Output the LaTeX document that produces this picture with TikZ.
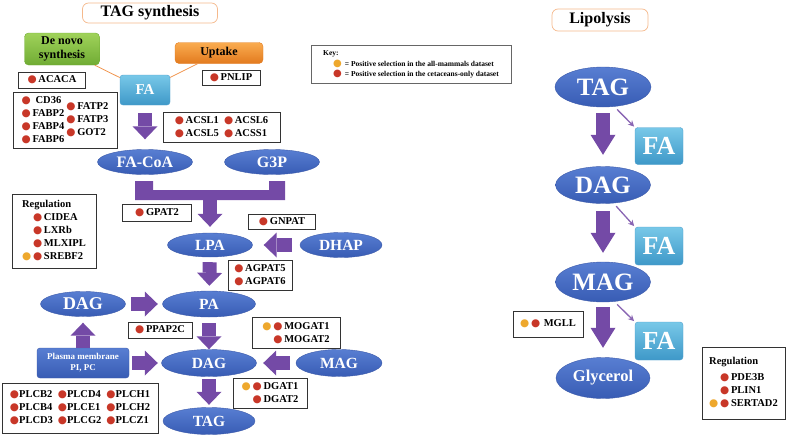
\documentclass[tikz,border=0pt]{standalone}
\usepackage{fontspec}
\setmainfont{Liberation Serif}
\newfontfamily\dotfont{DejaVu Sans}
\usetikzlibrary{shapes.geometric,arrows.meta}

\definecolor{dotred}{RGB}{200,55,40}
\definecolor{dotorange}{RGB}{238,168,45}
\definecolor{fatpurple}{RGB}{116,74,166}
\definecolor{elltop}{RGB}{88,126,210}
\definecolor{ellbot}{RGB}{56,92,180}
\definecolor{ellline}{RGB}{60,90,170}
\definecolor{fatop}{RGB}{120,200,232}
\definecolor{fabot}{RGB}{62,152,200}
\definecolor{faline}{RGB}{80,160,205}
\definecolor{greentop}{RGB}{160,210,90}
\definecolor{greenbot}{RGB}{112,172,52}
\definecolor{orangetop}{RGB}{250,172,80}
\definecolor{orangebot}{RGB}{226,122,30}
\definecolor{titleorange}{RGB}{245,185,140}
\definecolor{linkorange}{RGB}{240,150,80}

\newcommand{\rd}{\textcolor{dotred}{\dotfont ●}}
\newcommand{\od}{\textcolor{dotorange}{\dotfont ●}}

\begin{document}
\begin{tikzpicture}[x=1pt,y=-1pt,
    oval/.style={ellipse, inner sep=0pt, draw=ellline, top color=elltop, bottom color=ellbot, text=white, font=\bfseries\fontsize{15.5}{16}\selectfont},
    bigoval/.style={oval, font=\bfseries\fontsize{25}{25}\selectfont},
    fabox/.style={rectangle, rounded corners=3pt, inner sep=0pt, draw=faline, top color=fatop, bottom color=fabot, text=white, font=\bfseries\fontsize{15}{15}\selectfont},
    genes/.style={draw=black!80, line width=0.8pt, fill=white, inner sep=2pt, font=\bfseries\fontsize{10.5}{13}\selectfont},
    titlebox/.style={draw=titleorange, line width=0.7pt, rounded corners=6pt, fill=white, inner sep=0pt, font=\bfseries\fontsize{16}{16}\selectfont},
    fat/.style={line width=14pt, draw=fatpurple, -{Triangle[length=13pt,width=25pt,line width=0pt]}},
    longfat/.style={fat, -{Triangle[length=20pt,width=25pt,line width=0pt]}},
    thinarr/.style={line width=1.3pt, draw=fatpurple!85, -{Stealth[length=6pt,width=6pt]}},
    link/.style={draw=linkorange, line width=0.8pt}]
  \useasboundingbox (0,0) rectangle (787,439);

  \node[titlebox, minimum width=135, minimum height=20] (title1) at (150,13) {TAG synthesis};
  \node[titlebox, minimum width=96, minimum height=22] (title2) at (600,20) {Lipolysis};

  \node[rectangle, rounded corners=4pt, draw=greenbot, top color=greentop, bottom color=greenbot, minimum width=75, minimum height=32, inner sep=0pt, align=center, font=\bfseries\fontsize{12}{14}\selectfont] (denovo) at (62,49) {De novo\\synthesis};
  \node[rectangle, rounded corners=4pt, draw=orangebot, top color=orangetop, bottom color=orangebot, minimum width=88, minimum height=21, inner sep=0pt, font=\bfseries\fontsize{12}{14}\selectfont] (uptake) at (219,53) {Uptake};
  \node[fabox, minimum width=50, minimum height=30] (fa) at (145,90) {FA};
  \draw[link] (denovo) -- (fa);
  \draw[link] (uptake) -- (fa);

  \node[genes, minimum width=67, minimum height=16] (acaca) at (52,80) {\rd\,ACACA};
  \node[genes, minimum width=58, minimum height=15] (pnlip) at (231,78) {\rd\,PNLIP};

  \node[draw=black!60, line width=0.6pt, fill=white, minimum width=200, minimum height=38, inner sep=0pt, font=\bfseries\fontsize{7.5}{10.5}\selectfont] (key) at (411,64) {\begin{tabular}{@{\hspace{10pt}}c@{\hspace{3pt}}l@{}}
      \multicolumn{2}{@{}l}{Key:}\\
      {\fontsize{10}{10}\selectfont\od} & = Positive selection in the all-mammals dataset\\
      {\fontsize{10}{10}\selectfont\rd} & = Positive selection in the cetaceans-only dataset
    \end{tabular}};

  \node[genes, minimum width=104, minimum height=54] (transport) at (65,120) {\begin{tabular}{@{}c@{\,}c@{}}
      \rd & CD36\\ \rd & FABP2\\ \rd & FABP4\\ \rd & FABP6
    \end{tabular}\hspace{2pt}\begin{tabular}{@{}c@{\,}l@{}}
      \rd & FATP2\\ \rd & FATP3\\ \rd & GOT2
    \end{tabular}};

  \node[genes, minimum width=117, minimum height=30] (acsl) at (221.5,127) {\begin{tabular}{@{}c@{\,}l@{\hspace{5pt}}c@{\,}l@{}}
      \rd & ACSL1 & \rd & ACSL6\\ \rd & ACSL5 & \rd & ACSS1
    \end{tabular}};

  \node[oval, minimum width=95, minimum height=25, font=\bfseries\fontsize{16}{16}\selectfont] (facoa) at (145,162) {FA-CoA};
  \node[oval, minimum width=95, minimum height=25, font=\bfseries\fontsize{16}{16}\selectfont] (g3p) at (272,162) {G3P};
  \draw[fat, shorten <=8pt, shorten >=10pt] (fa) -- (facoa);

  \fill[fatpurple] (135,181) -- (153,181) -- (153,190) -- (269,190) -- (269,181)
    -- (285,181) -- (285,200) -- (135,200) -- cycle;
  \coordinate (barmid) at (210,200);

  \node[genes, minimum width=69, minimum height=17] (gpat2) at (157,213) {\rd\,GPAT2};
  \node[genes, minimum width=84, minimum height=74] (reg1) at (54,231) {\begin{tabular}{@{}r@{\,}l@{}}
      \multicolumn{2}{@{}l}{Regulation}\\
      \rd & CIDEA\\ \rd & LXRb\\ \rd & MLXIPL\\ \od\,\rd & SREBF2
    \end{tabular}};
  \node[genes, minimum width=67, minimum height=15] (gnpat) at (282,222) {\rd\,GNPAT};

  \node[oval, minimum width=85, minimum height=24] (lpa) at (210,245) {LPA};
  \node[oval, minimum width=82, minimum height=25] (dhap) at (341,245) {DHAP};
  \draw[fat, shorten >=6pt] (barmid) -- (lpa);
  \draw[fat, shorten <=8pt, shorten >=11pt] (dhap) -- (lpa);

  \node[genes, minimum width=64, minimum height=26] (agpat) at (260,275) {\begin{tabular}{@{}c@{\,}l@{}}
      \rd & AGPAT5\\ \rd & AGPAT6
    \end{tabular}};

  \node[oval, minimum width=93, minimum height=26] (pa) at (209,304) {PA};
  \node[oval, minimum width=85, minimum height=25, font=\bfseries\fontsize{18}{18}\selectfont] (dagL) at (83,304) {DAG};
  \draw[fat, shorten <=5pt, shorten >=5pt] (lpa) -- (pa);
  \draw[fat, shorten <=5.5pt, shorten >=4.5pt] (dagL) -- (pa);

  \node[rectangle, rounded corners=3pt, draw=ellline, top color=elltop, bottom color=ellbot, text=white, minimum width=92, minimum height=30, inner sep=0pt, align=center, font=\bfseries\fontsize{9}{11}\selectfont] (plasma) at (83,363) {Plasma membrane\\PI, PC};
  \node[genes, minimum width=64, minimum height=16] (ppap) at (160,330) {\rd\,PPAP2C};

  \node[oval, minimum width=95, minimum height=27] (dagC) at (209,363) {DAG};
  \node[oval, minimum width=86, minimum height=27] (mag) at (339,363) {MAG};
  \node[genes, minimum width=88, minimum height=31] (mogat) at (296,333) {\begin{tabular}{@{}r@{\,}l@{}}
      \od\,\rd & MOGAT1\\ \rd & MOGAT2
    \end{tabular}};
  \draw[fat, shorten >=6pt] (plasma) -- (dagL);
  \draw[fat, shorten <=3pt, shorten >=3.5pt] (plasma) -- (dagC);
  \draw[fat, shorten <=6pt] (pa) -- (dagC);
  \draw[fat, shorten <=6pt, shorten >=6.5pt] (mag) -- (dagC);

  \node[genes, minimum width=74, minimum height=27] (dgat) at (270,393) {\begin{tabular}{@{}r@{\,}l@{}}
      \od\,\rd & DGAT1\\ \rd & DGAT2
    \end{tabular}};
  \node[oval, minimum width=92, minimum height=27] (tagL) at (209,421) {TAG};
  \draw[fat, shorten <=2.5pt, shorten >=2.5pt] (dagC) -- (tagL);

  \node[genes, minimum width=156, minimum height=50] (plc) at (80,408) {\begin{tabular}{@{}c@{}l@{\hspace{5pt}}c@{}l@{\hspace{5pt}}c@{}l@{}}
      \rd & PLCB2 & \rd & PLCD4 & \rd & PLCH1\\
      \rd & PLCB4 & \rd & PLCE1 & \rd & PLCH2\\
      \rd & PLCD3 & \rd & PLCG2 & \rd & PLCZ1
    \end{tabular}};

  \node[bigoval, minimum width=96, minimum height=40] (tagR) at (603,87) {TAG};
  \node[bigoval, minimum width=95, minimum height=37] (dagR) at (603,185) {DAG};
  \node[bigoval, minimum width=95, minimum height=40] (magR) at (603,282) {MAG};
  \node[oval, minimum width=94, minimum height=41, font=\bfseries\fontsize{16.5}{17}\selectfont] (gly) at (603,378) {Glycerol};
  \node[fabox, minimum width=48, minimum height=37, font=\bfseries\fontsize{26}{26}\selectfont] (fa1) at (659,146) {FA};
  \node[fabox, minimum width=48, minimum height=38, font=\bfseries\fontsize{26}{26}\selectfont] (fa2) at (659,246) {FA};
  \node[fabox, minimum width=48, minimum height=38, font=\bfseries\fontsize{26}{26}\selectfont] (fa3) at (659,341) {FA};
  \draw[longfat, shorten <=6pt, shorten >=11.5pt] (tagR) -- (dagR);
  \draw[longfat, shorten <=7.5pt, shorten >=9pt] (dagR) -- (magR);
  \draw[longfat, shorten <=5pt, shorten >=9.5pt] (magR) -- (gly);
  \draw[thinarr, shorten <=4pt, shorten >=1pt] (tagR.-60) -- (fa1.north west);
  \draw[thinarr, shorten <=4pt, shorten >=1pt] (dagR.-60) -- (fa2.north west);
  \draw[thinarr, shorten <=4pt, shorten >=1pt] (magR.-60) -- (fa3.north west);

  \node[genes, minimum width=70, minimum height=26] (mgll) at (548,324) {\od\,\rd\,\,MGLL};
  \node[genes, minimum width=83, minimum height=72] (reg2) at (743.5,383) {\begin{tabular}{@{}r@{\,}l@{}}
      \multicolumn{2}{@{}l}{Regulation}\\[3pt]
      \rd & PDE3B\\ \rd & PLIN1\\ \od\,\rd & SERTAD2
    \end{tabular}};
\end{tikzpicture}
\end{document}
